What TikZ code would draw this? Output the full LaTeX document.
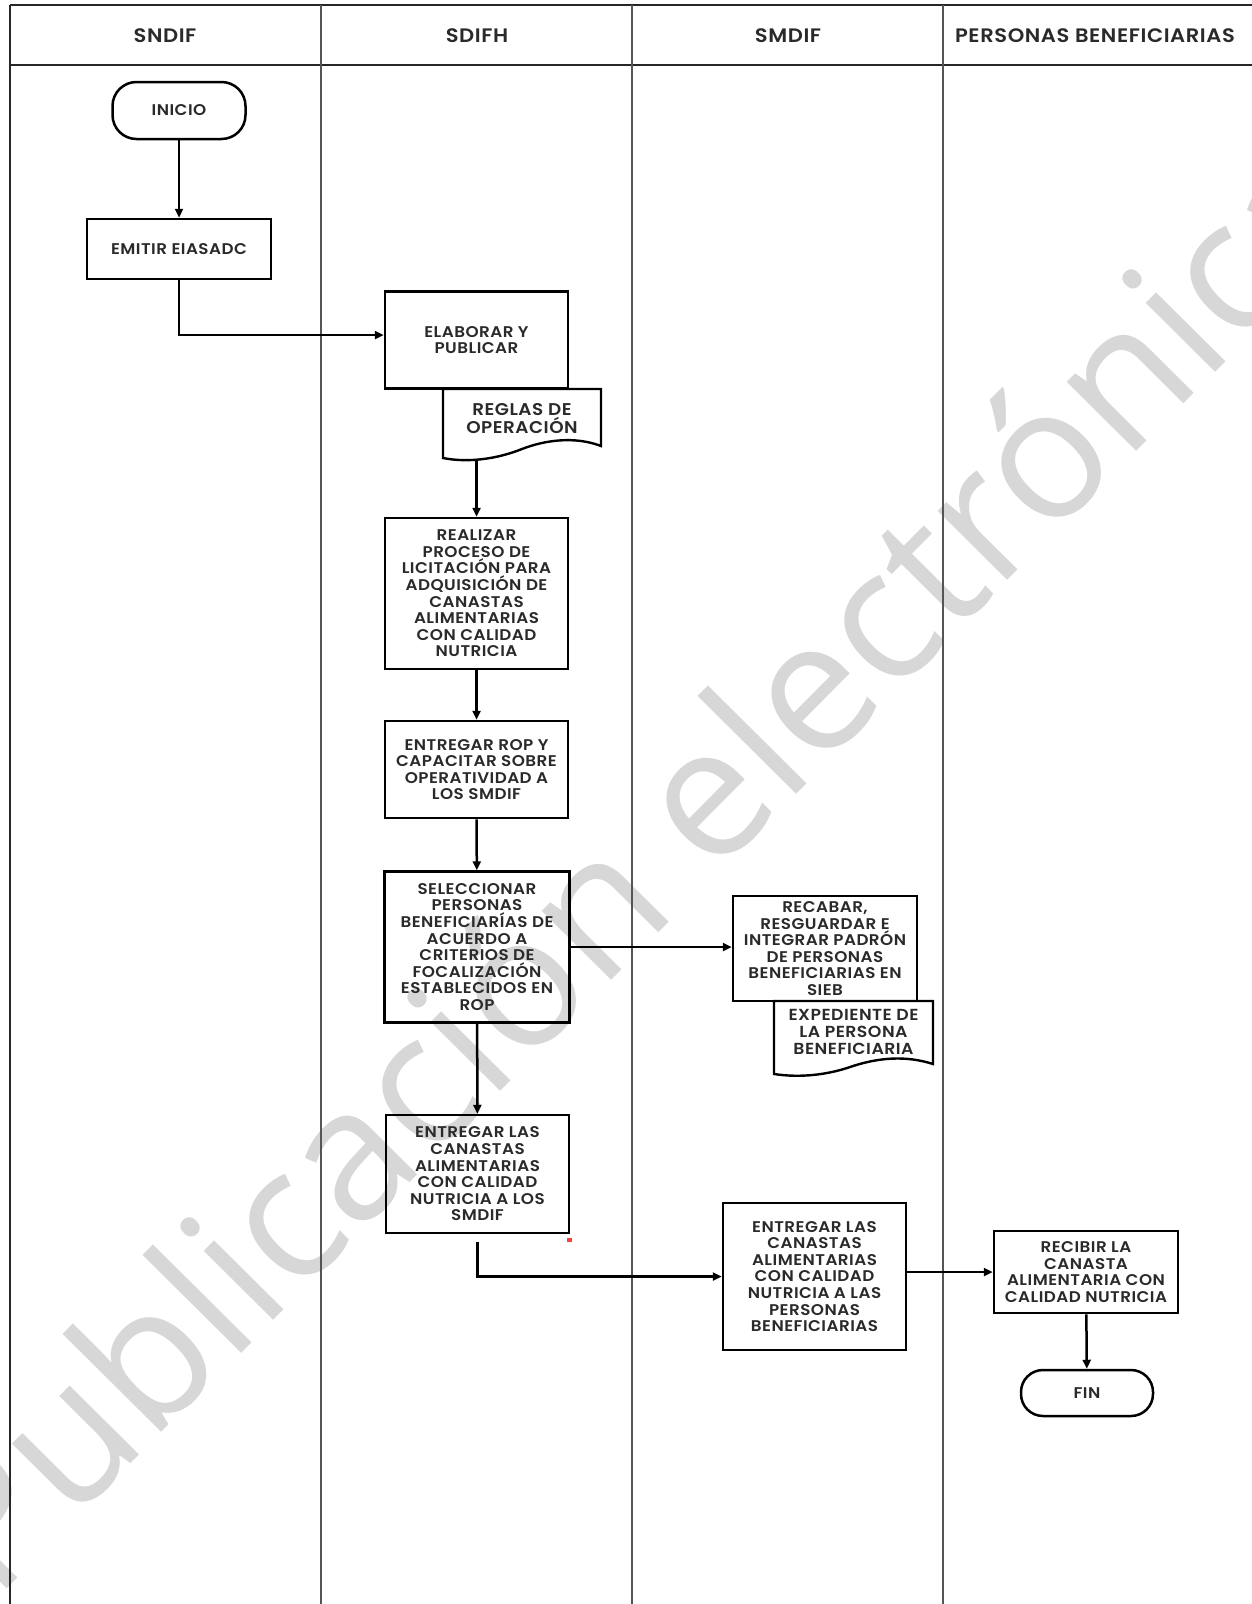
\documentclass[tikz,border=0pt]{standalone}
\usepackage{fontspec}
\setmainfont{Poppins}[UprightFont=* SemiBold, FakeStretch=1.08, LetterSpace=3]
\newfontfamily\wmfont{Open Sans}
\usetikzlibrary{arrows.meta}
\definecolor{txt}{HTML}{2A2A2A}
\definecolor{wmc}{HTML}{D7D7D7}
\definecolor{lanec}{HTML}{555555}
\begin{document}
\begin{tikzpicture}[x=1pt,y=-1pt,
  lane/.style={draw=lanec, line width=1.8pt},
  frame/.style={draw=black!85, line width=2pt},
  hdr/.style={font=\fontsize{19.5}{22}\selectfont, text=txt},
  box/.style={draw, line width=2.5pt, minimum width=183pt, align=center, inner sep=0pt,
    font=\fontsize{15.5}{16.6}\selectfont, text=txt},
  term/.style={box, rounded corners=24pt},
  doctext/.style={align=center, inner sep=0pt, font=\fontsize{17}{18}\selectfont, text=txt},
  docline/.style={draw, line width=2.4pt},
  arr/.style={line width=2.5pt, -{Triangle[length=9pt,width=8pt]}},
  wm/.style={text=wmc, font=\wmfont\fontsize{183}{200}\selectfont, inner sep=0pt}
]
\useasboundingbox (0,0) rectangle (1252,1604);
% watermark
\begin{scope}
  \clip (0,0) rectangle (1252,1604);
  \begin{scope}[shift={(682,909)}]
    \node[wm, anchor=base, rotate=45.2] (wmark) at (0,0) {Publicación electrónica};
  \end{scope}
\end{scope}
% swimlanes
\draw[frame] (10,5) -- (1252,5);
\draw[frame] (10,64.5) -- (1252,64.5);
\draw[frame] (10,5) -- (10,1604);
\draw[lane] (321,5) -- (321,1604);
\draw[lane] (632,5) -- (632,1604);
\draw[lane] (943,5) -- (943,1604);
\node[hdr] (h1) at (165,36) {SNDIF};
\node[hdr] (h2) at (477,36) {SDIFH};
\node[hdr] (h3) at (788,36) {SMDIF};
\node[hdr] (h4) at (1095,36) {PERSONAS BENEFICIARIAS};
% nodes
\node[term, minimum width=133pt, minimum height=57pt] (inicio) at (179,110.5) {INICIO};
\node[box, minimum width=184pt, minimum height=60pt] (emitir) at (179,249) {EMITIR EIASADC};
\node[box, minimum height=97pt] (elab) at (476.5,340) {ELABORAR Y\\PUBLICAR};
\draw[docline] (443,389) -- (601,389) -- (601,446) .. controls (575,436) and (545,440) .. (522,449) .. controls (497,459) and (468,463) .. (443,458) -- cycle;
\node[doctext] (reglas) at (522,419) {REGLAS DE\\OPERACIÓN};
\coordinate (rgout) at (476.5,460);
\node[box, minimum height=151pt] (real) at (476.5,593.5) {REALIZAR\\PROCESO DE\\LICITACIÓN PARA\\ADQUISICIÓN DE\\CANASTAS\\ALIMENTARIAS\\CON CALIDAD\\NUTRICIA};
\node[box, minimum height=97pt] (rop) at (476.5,769.5) {ENTREGAR ROP Y\\CAPACITAR SOBRE\\OPERATIVIDAD A\\LOS SMDIF};
\node[box, minimum width=185pt, minimum height=151pt] (sel) at (477,947) {SELECCIONAR\\PERSONAS\\BENEFICIARÍAS DE\\ACUERDO A\\CRITERIOS DE\\FOCALIZACIÓN\\ESTABLECIDOS EN\\ROP};
\node[box, minimum height=118pt] (ent1) at (477.5,1174) {ENTREGAR LAS\\CANASTAS\\ALIMENTARIAS\\CON CALIDAD\\NUTRICIA A LOS\\SMDIF};
\node[box, minimum width=184pt, minimum height=105pt] (recab) at (825,948.5) {RECABAR,\\RESGUARDAR E\\INTEGRAR PADRÓN\\DE PERSONAS\\BENEFICIARIAS EN\\SIEB};
\draw[docline] (774,1001) -- (933,1001) -- (933,1064) .. controls (905,1055) and (878,1058) .. (853,1066) .. controls (828,1075) and (800,1078) .. (774,1074) -- cycle;
\node[doctext, font=\fontsize{16}{16.8}\selectfont] (exped) at (853.5,1032) {EXPEDIENTE DE\\LA PERSONA\\BENEFICIARIA};
\node[box, minimum height=147pt] (ent2) at (814.5,1276.5) {ENTREGAR LAS\\CANASTAS\\ALIMENTARIAS\\CON CALIDAD\\NUTRICIA A LAS\\PERSONAS\\BENEFICIARIAS};
\node[box, minimum width=184pt, minimum height=82pt] (recib) at (1086,1272) {RECIBIR LA\\CANASTA\\ALIMENTARIA CON\\CALIDAD NUTRICIA};
\node[term, minimum width=132pt, minimum height=46pt, rounded corners=22pt] (fin) at (1087,1393) {FIN};
\fill[red!75!white] (567,1238) rectangle (572,1242);
% connectors
\draw[arr] (inicio) -- (emitir);
\draw[arr] (emitir.south) |- ([yshift=5pt]elab.west);
\draw[arr] (rgout) -- (real.north);
\draw[arr] (real) -- (rop);
\draw[arr] (rop) -- (sel);
\draw[arr] (sel) -- (ent1);
\draw[arr] (sel.east) -- (sel.east -| recab.west);
\coordinate (e1out) at ([yshift=-8pt]ent1.south);
\draw[arr] (e1out) |- (ent2.west);
\draw[arr] (ent2.east |- recib.west) -- (recib.west);
\draw[arr] (recib) -- (fin);
\end{tikzpicture}
\end{document}
